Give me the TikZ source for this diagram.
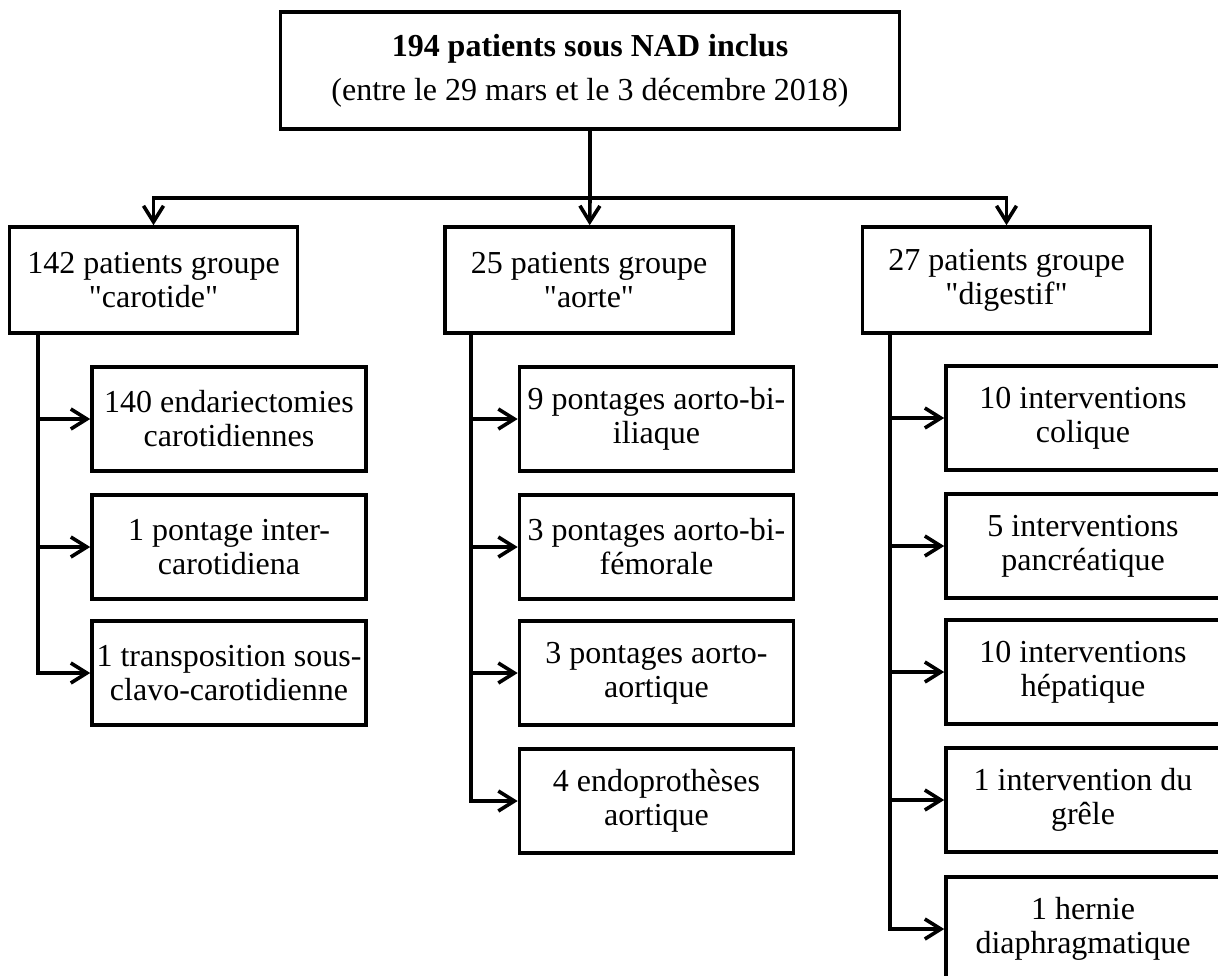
\documentclass[tikz,border=0pt]{standalone}
\usepackage{fontspec}
\setmainfont{Liberation Serif}[Ligatures=TeXOff]
\usetikzlibrary{arrows.meta}
\begin{document}
\begin{tikzpicture}[x=0.5pt,y=-0.5pt,line width=1.8pt,
    box/.style={draw,align=center,inner sep=0pt,font=\fontsize{16}{17}\selectfont},
    grp/.style={box,minimum width=144pt,minimum height=53pt},
    sub/.style={box,minimum width=137pt,minimum height=52pt}]
      \clip (0,0) rectangle (1218,975);
      \draw
        (590,70.5) node[box,minimum width=309.5pt,minimum height=58.5pt] (incl)
          {\textbf{194 patients sous NAD inclus}\\[5pt](entre le 29 mars et le 3 décembre 2018)}
        (153.5,280) node[grp] (car){142 patients groupe\\"carotide"}
        (589,280) node[grp] (aor){25 patients groupe\\"aorte"}
        (1006.5,280) node[grp] (dig){27 patients groupe\\"digestif"}
        (229,419) node[sub] (car1){140 endariectomies\\carotidiennes}
        (229,547) node[sub] (car2){1 pontage inter-\\carotidiena}
        (229,673) node[sub] (car3){1 transposition sous-\\clavo-carotidienne}
        (656.5,419) node[sub] (aor1){9 pontages aorto-bi-\\iliaque}
        (656.5,547) node[sub] (aor2){3 pontages aorto-bi-\\fémorale}
        (656.5,673) node[sub] (aor3){3 pontages aorto-\\aortique}
        (656.5,801) node[sub] (aor4){4 endoprothèses\\aortique}
        (1083,418) node[sub] (dig1){10 interventions\\colique}
        (1083,546) node[sub] (dig2){5 interventions\\pancréatique}
        (1083,672) node[sub] (dig3){10 interventions\\hépatique}
        (1083,800) node[sub] (dig4){1 intervention du\\grêle}
        (1083,929) node[sub] (dig5){1 hernie\\diaphragmatique};
      \coordinate (split) at (590,198);
      \draw (incl) -- (split);
      \begin{scope}[-{Straight Barb[length=8pt,width=10pt]}]
        \draw (split) -| (car);
        \draw (split) -- (aor);
        \draw (split) -| (dig);
        \draw ([xshift=15pt]car.south west) |- (car1);
        \draw ([xshift=15pt]car.south west) |- (car2);
        \draw ([xshift=15pt]car.south west) |- (car3);
        \draw ([xshift=14pt]aor.south west) |- (aor1);
        \draw ([xshift=14pt]aor.south west) |- (aor2);
        \draw ([xshift=14pt]aor.south west) |- (aor3);
        \draw ([xshift=14pt]aor.south west) |- (aor4);
        \draw ([xshift=14.5pt]dig.south west) |- (dig1);
        \draw ([xshift=14.5pt]dig.south west) |- (dig2);
        \draw ([xshift=14.5pt]dig.south west) |- (dig3);
        \draw ([xshift=14.5pt]dig.south west) |- (dig4);
        \draw ([xshift=14.5pt]dig.south west) |- (dig5);
      \end{scope}
    \end{tikzpicture}
\end{document}
